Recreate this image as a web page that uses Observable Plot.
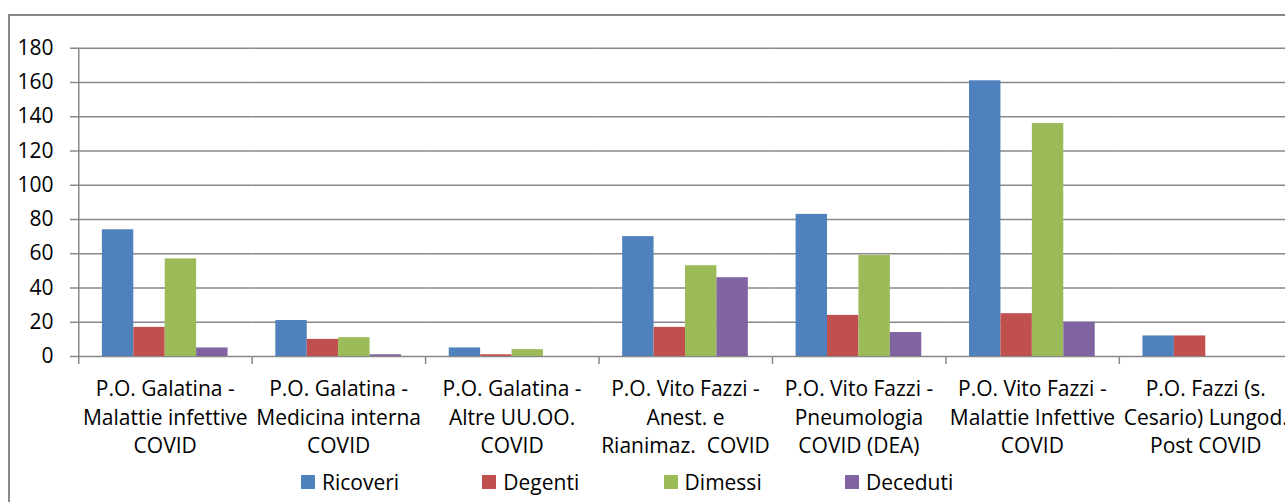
<!DOCTYPE html>
<html><head><meta charset="utf-8">
<script src="https://cdn.jsdelivr.net/npm/d3@7"></script>
<script src="https://cdn.jsdelivr.net/npm/@observablehq/plot@0.6"></script>
<style>
html,body{margin:0;padding:0;background:#fff;overflow:hidden;}
#wrap{position:relative;width:1285px;height:502px;overflow:hidden;font-family:"Open Sans",sans-serif;}
#chart{position:absolute;left:0;top:0;}
#frame{position:absolute;left:8px;top:14px;width:1400px;height:600px;border:2px solid #898989;box-sizing:border-box;pointer-events:none;}
#legend{position:absolute;left:301px;top:468px;display:flex;}
.item{width:181.3px;display:flex;align-items:center;font-size:21px;color:#000;height:28px;white-space:nowrap;}
.sw{width:14px;height:14px;margin-right:7px;flex:none;}
</style></head>
<body><div id="wrap"><div id="chart"></div><div id="legend"></div><div id="frame"></div></div>
<script>
const categories = [
  "P.O. Galatina -\nMalattie infettive\nCOVID",
  "P.O. Galatina -\nMedicina interna\nCOVID",
  "P.O. Galatina -\nAltre UU.OO.\nCOVID",
  "P.O. Vito Fazzi -\nAnest. e\nRianimaz.  COVID",
  "P.O. Vito Fazzi -\nPneumologia\nCOVID (DEA)",
  "P.O. Vito Fazzi -\nMalattie Infettive\nCOVID",
  "P.O. Fazzi (s.\nCesario) Lungod.\nPost COVID"
];
const series = ["Ricoveri", "Degenti", "Dimessi", "Deceduti"];
const ricoveri = [74, 21, 5, 70, 83, 161, 12];
const degenti  = [17, 10, 1, 17, 24, 25, 12];
const dimessi  = [57, 11, 4, 53, 59, 136, 0];
const deceduti = [5, 1, 0, 46, 14, 20, 0];
const colors = ["#4F81BD", "#C0504D", "#9BBB59", "#8064A2"];
const yTicks = [0, 20, 40, 60, 80, 100, 120, 140, 160, 180];

const values = [ricoveri, degenti, dimessi, deceduti];
const rows = categories.flatMap((c, i) => series.map((s, j) => ({category: c, series: s, value: values[j][i]})));

const plot = Plot.plot({
  width: 1285, height: 502,
  marginTop: 47.75, marginBottom: 146, marginLeft: 78, marginRight: 0,
  style: {fontFamily: '"Open Sans", sans-serif', fontSize: "21px", background: "transparent", color: "#000"},
  fx: {domain: categories, range: [78, 1292], padding: 0, round: false, label: null},
  x: {domain: series, paddingInner: 0, paddingOuter: 0.76, round: false, axis: null},
  y: {domain: [0, 180], label: null},
  color: {domain: series, range: colors},
  marks: [
    Plot.ruleY(yTicks, {y: d => d, stroke: "#888", strokeWidth: 1.5}),
    Plot.barY(rows, {fx: "category", x: "series", y: "value", fill: "series"}),
    Plot.axisY(yTicks, {tickSize: 8, tickPadding: 17, stroke: "#888", strokeWidth: 1.5, fill: "#000", fontSize: 21, label: null}),
    Plot.axisFx({anchor: "bottom", tickSize: 0, tickPadding: 19, fontSize: 21, lineHeight: 1.367, fill: "#000", label: null})
  ]
});
document.getElementById("chart").appendChild(plot);

// category boundary ticks and left axis line, positioned from Plot's own scales
const fxs = plot.scale("fx"), ys = plot.scale("y");
const y0 = ys.apply(0), yTop = ys.apply(180);
const g = d3.select(plot).append("g").attr("stroke", "#888").attr("stroke-width", 1.5);
categories.forEach((c, i) => {
  const xb = fxs.apply(c) + 0.75;
  g.append("line").attr("x1", xb).attr("x2", xb).attr("y1", i === 0 ? yTop : y0).attr("y2", y0 + 8);
});

const legend = document.getElementById("legend");
series.forEach((s, i) => {
  const it = document.createElement("div"); it.className = "item";
  const sw = document.createElement("span"); sw.className = "sw"; sw.style.background = colors[i];
  const t = document.createElement("span"); t.textContent = s;
  it.appendChild(sw); it.appendChild(t); legend.appendChild(it);
});
</script></body></html>
